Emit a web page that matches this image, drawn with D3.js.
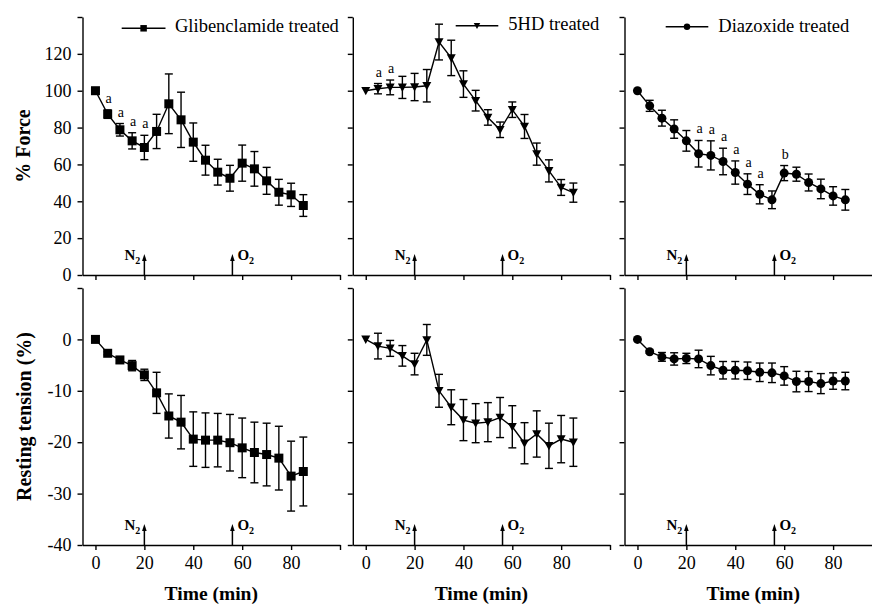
<!DOCTYPE html>
<html>
<head>
<meta charset="utf-8">
<script src="https://cdn.jsdelivr.net/npm/d3@7"></script>
<style>
  body { margin: 0; background: #fff; }
  svg { display: block; font-family: "Liberation Serif", "Times New Roman", serif; }
</style>
</head>
<body>
<svg id="chart" width="872" height="606"></svg>
<script>
// time points (min)
const times = [0, 5, 10, 15, 20, 25, 30, 35, 40, 45, 50, 55, 60, 65, 70, 75, 80, 85];

// % force
const gliForce    = [100, 87.3, 78.8, 72.8, 69.2, 77.9, 92.9, 84.2, 72.1, 62.3, 55.8, 52.5, 60.7, 57.6, 51.1, 44.9, 43.5, 37.7];
const gliForceErr = [0, 2.3, 3.4, 4.4, 6.6, 9.3, 16.2, 15, 10.4, 8.1, 7, 7, 9.8, 9.4, 7.3, 7, 6.3, 5.9];
const gliForceSig = ["", "a", "a", "a", "a", "", "", "", "", "", "", "", "", "", "", "", "", ""];

const hdForce    = [100, 101.1, 101.8, 101.8, 102, 102.7, 126.4, 117.8, 103.6, 94.6, 85.5, 78.8, 89.7, 80.6, 65.6, 56.5, 47.5, 44.7];
const hdForceErr = [0, 2.8, 4, 6, 7.4, 8.8, 9.7, 9.6, 7.2, 5.6, 4.2, 4.2, 4.2, 6.5, 6, 6, 4.3, 5.2];
const hdForceSig = ["", "a", "a", "", "", "", "", "", "", "", "", "", "", "", "", "", "", ""];

const diaForce    = [100, 91.8, 85.1, 79.2, 72.8, 65.8, 64.9, 61.6, 55.6, 49.3, 43.8, 40.8, 55.3, 54.7, 50.2, 46.7, 42.9, 40.8];
const diaForceErr = [0, 3, 4.3, 5, 5.6, 7.2, 7.9, 7.2, 6.3, 5.6, 5.2, 4.8, 4.1, 3.8, 4.6, 5.3, 5, 5.6];
const diaForceSig = ["", "", "", "", "", "a", "a", "a", "a", "a", "a", "", "b", "", "", "", "", ""];

// resting tension (%)
const gliRest    = [0, -2.7, -4.0, -5.1, -6.9, -10.4, -14.9, -16.1, -19.4, -19.6, -19.6, -20.1, -21.1, -22.0, -22.4, -23.1, -26.6, -25.7];
const gliRestErr = [0, 0.3, 0.65, 1, 1.1, 4, 4.3, 5.2, 5.3, 5.3, 5.2, 5.5, 5.8, 5.9, 6.1, 6.2, 6.8, 6.7];

const hdRest    = [0, -1.3, -1.75, -3.2, -4.8, -0.1, -10, -13.2, -15.7, -16.3, -16.1, -15.2, -17, -20.2, -18.4, -20.7, -19.4, -20];
const hdRestErr = [0, 2.5, 1.55, 2, 2.1, 3, 3.2, 3.4, 4, 3.8, 3.8, 3.9, 4.1, 4, 4.5, 4.4, 4.6, 4.7];

const diaRest    = [0, -2.4, -3.4, -3.8, -3.7, -3.8, -5.1, -6.0, -6.0, -6.1, -6.4, -6.5, -7.1, -8.2, -8.2, -8.6, -8.1, -8.1];
const diaRestErr = [0, 0.3, 0.85, 1.2, 1, 1.7, 1.8, 1.7, 1.7, 1.7, 1.8, 1.9, 1.8, 2, 1.95, 1.95, 1.6, 1.7];

// gas switches
const gasTimes = [20, 56];
const gasNames = ["N", "O"];

const xTicks = [0, 20, 40, 60, 80, 100];
const forceTicks = [0, 20, 40, 60, 80, 100, 120, 140];
const restTicks = [-40, -30, -20, -10, 0, 10];

const legendNames = ["Glibenclamide treated", "5HD treated", "Diazoxide treated"];
const markerKinds = ["square", "triangle", "circle"];

const serif = "'Liberation Serif', 'Times New Roman', serif";
const svg = d3.select("#chart");
svg.append("rect").attr("width", 872).attr("height", 606).attr("fill", "#fff");

const colRanges = [[82.5, 340], [352.8, 610], [624.5, 882]];
const rows = [
  { range: [275, 17], domain: [0, 140], ticks: forceTicks, hidden: 140 },
  { range: [545, 288], domain: [-40, 10], ticks: restTicks, hidden: 10 }
];

const panels = [
  { col: 0, row: 0, y: gliForce, err: gliForceErr, sig: gliForceSig },
  { col: 1, row: 0, y: hdForce, err: hdForceErr, sig: hdForceSig },
  { col: 2, row: 0, y: diaForce, err: diaForceErr, sig: diaForceSig },
  { col: 0, row: 1, y: gliRest, err: gliRestErr },
  { col: 1, row: 1, y: hdRest, err: hdRestErr },
  { col: 2, row: 1, y: diaRest, err: diaRestErr }
];

function markerPath(kind, s) {
  if (kind === "square") return d3.symbol(d3.symbolSquare, s * s)();
  if (kind === "circle") return d3.symbol(d3.symbolCircle, Math.PI * s * s / 4)();
  return `M${-s / 2},${-s * 0.42}L${s / 2},${-s * 0.42}L0,${s * 0.5}Z`;
}

panels.forEach(p => {
  const row = rows[p.row];
  const x = d3.scaleLinear().domain([-5.3, 100]).range(colRanges[p.col]);
  const y = d3.scaleLinear().domain(row.domain).range(row.range);
  const g = svg.append("g");
  const axisY = row.range[0];

  // axes
  const xAxis = d3.axisBottom(x).tickValues(xTicks).tickSize(5).tickSizeOuter(0).tickPadding(6)
    .tickFormat(d => (p.row === 1 && d !== 100) ? d : "");
  g.append("g").attr("transform", `translate(0,${axisY})`).call(xAxis)
    .attr("font-family", serif).attr("font-size", 18);

  const yAxis = d3.axisLeft(y).tickValues(row.ticks).tickSize(5).tickSizeOuter(0).tickPadding(6)
    .tickFormat(d => (p.col === 0 && d !== row.hidden) ? String(d) : "");
  g.append("g").attr("transform", `translate(${colRanges[p.col][0]},0)`).call(yAxis)
    .attr("font-family", serif).attr("font-size", 18);

  g.selectAll(".domain, .tick line").attr("stroke", "#000").attr("stroke-width", 1.4);
  g.selectAll(".tick text").attr("fill", "#000");

  // gas arrows
  gasTimes.forEach((t, i) => {
    const ax = x(t);
    g.append("line").attr("x1", ax).attr("x2", ax).attr("y1", axisY).attr("y2", axisY - 15)
      .attr("stroke", "#000").attr("stroke-width", 1.5);
    g.append("path").attr("d", `M${ax - 2.3},${axisY - 14}L${ax + 2.3},${axisY - 14}L${ax},${axisY - 21}Z`)
      .attr("fill", "#000");
    const t0 = g.append("text")
      .attr("x", i === 0 ? ax - 4 : ax + 5)
      .attr("y", axisY - 15)
      .attr("text-anchor", i === 0 ? "end" : "start")
      .style("font-size", "15px").style("font-weight", "bold");
    t0.append("tspan").text(gasNames[i]);
    t0.append("tspan").attr("dy", 4).style("font-size", "10px").text("2");
  });

  const pts = times.map((t, i) => ({ t, v: p.y[i], e: p.err[i], s: p.sig ? p.sig[i] : "" }));

  // error bars
  const eb = g.selectAll(".err").data(pts.filter(d => d.e > 0)).enter().append("g")
    .attr("stroke", "#000").attr("stroke-width", 1.4);
  eb.append("line").attr("x1", d => x(d.t)).attr("x2", d => x(d.t))
    .attr("y1", d => y(d.v - d.e)).attr("y2", d => y(d.v + d.e));
  eb.append("line").attr("x1", d => x(d.t) - 4).attr("x2", d => x(d.t) + 4)
    .attr("y1", d => y(d.v - d.e)).attr("y2", d => y(d.v - d.e));
  eb.append("line").attr("x1", d => x(d.t) - 4).attr("x2", d => x(d.t) + 4)
    .attr("y1", d => y(d.v + d.e)).attr("y2", d => y(d.v + d.e));

  // line
  g.append("path").datum(pts)
    .attr("d", d3.line().x(d => x(d.t)).y(d => y(d.v)))
    .attr("fill", "none").attr("stroke", "#000").attr("stroke-width", 1.4);

  // markers
  g.selectAll(".mk").data(pts).enter().append("path")
    .attr("transform", d => `translate(${x(d.t)},${y(d.v)})`)
    .attr("d", markerPath(markerKinds[p.col], 9))
    .attr("fill", "#000");

  // significance letters
  g.selectAll(".sig").data(pts.filter(d => d.s)).enter().append("text")
    .attr("x", d => x(d.t) + 1)
    .attr("y", d => y(d.v + d.e) - 7)
    .attr("text-anchor", "middle")
    .style("font-size", "14px")
    .text(d => d.s);
});

// legends
const legendPos = [
  { x1: 121.7, x2: 165.5, y: 28.3, tx: 175, ty: 31.5 },
  { x1: 455.7, x2: 498.3, y: 25.7, tx: 508.3, ty: 30 },
  { x1: 665.7, x2: 708.3, y: 26.7, tx: 718.3, ty: 31.5 }
];
legendNames.forEach((name, i) => {
  const lp = legendPos[i];
  svg.append("line").attr("x1", lp.x1).attr("x2", lp.x2).attr("y1", lp.y).attr("y2", lp.y)
    .attr("stroke", "#000").attr("stroke-width", 1.4);
  svg.append("path").attr("transform", `translate(${(lp.x1 + lp.x2) / 2},${lp.y})`)
    .attr("d", markerPath(markerKinds[i], 6.5)).attr("fill", "#000");
  svg.append("text").attr("x", lp.tx).attr("y", lp.ty).style("font-size", "18.5px").text(name);
});

// axis titles
svg.append("text").attr("transform", "translate(30,146) rotate(-90)")
  .attr("text-anchor", "middle").style("font-size", "20px").style("font-weight", "bold")
  .text("% Force");
svg.append("text").attr("transform", "translate(31,416.5) rotate(-90)")
  .attr("text-anchor", "middle").style("font-size", "20px").style("font-weight", "bold")
  .text("Resting tension (%)");
colRanges.forEach(r => {
  svg.append("text").attr("x", (r[0] + r[1]) / 2)
    .attr("y", 600).attr("text-anchor", "middle")
    .style("font-size", "19.5px").style("font-weight", "bold")
    .text("Time (min)");
});
</script>
</body>
</html>
